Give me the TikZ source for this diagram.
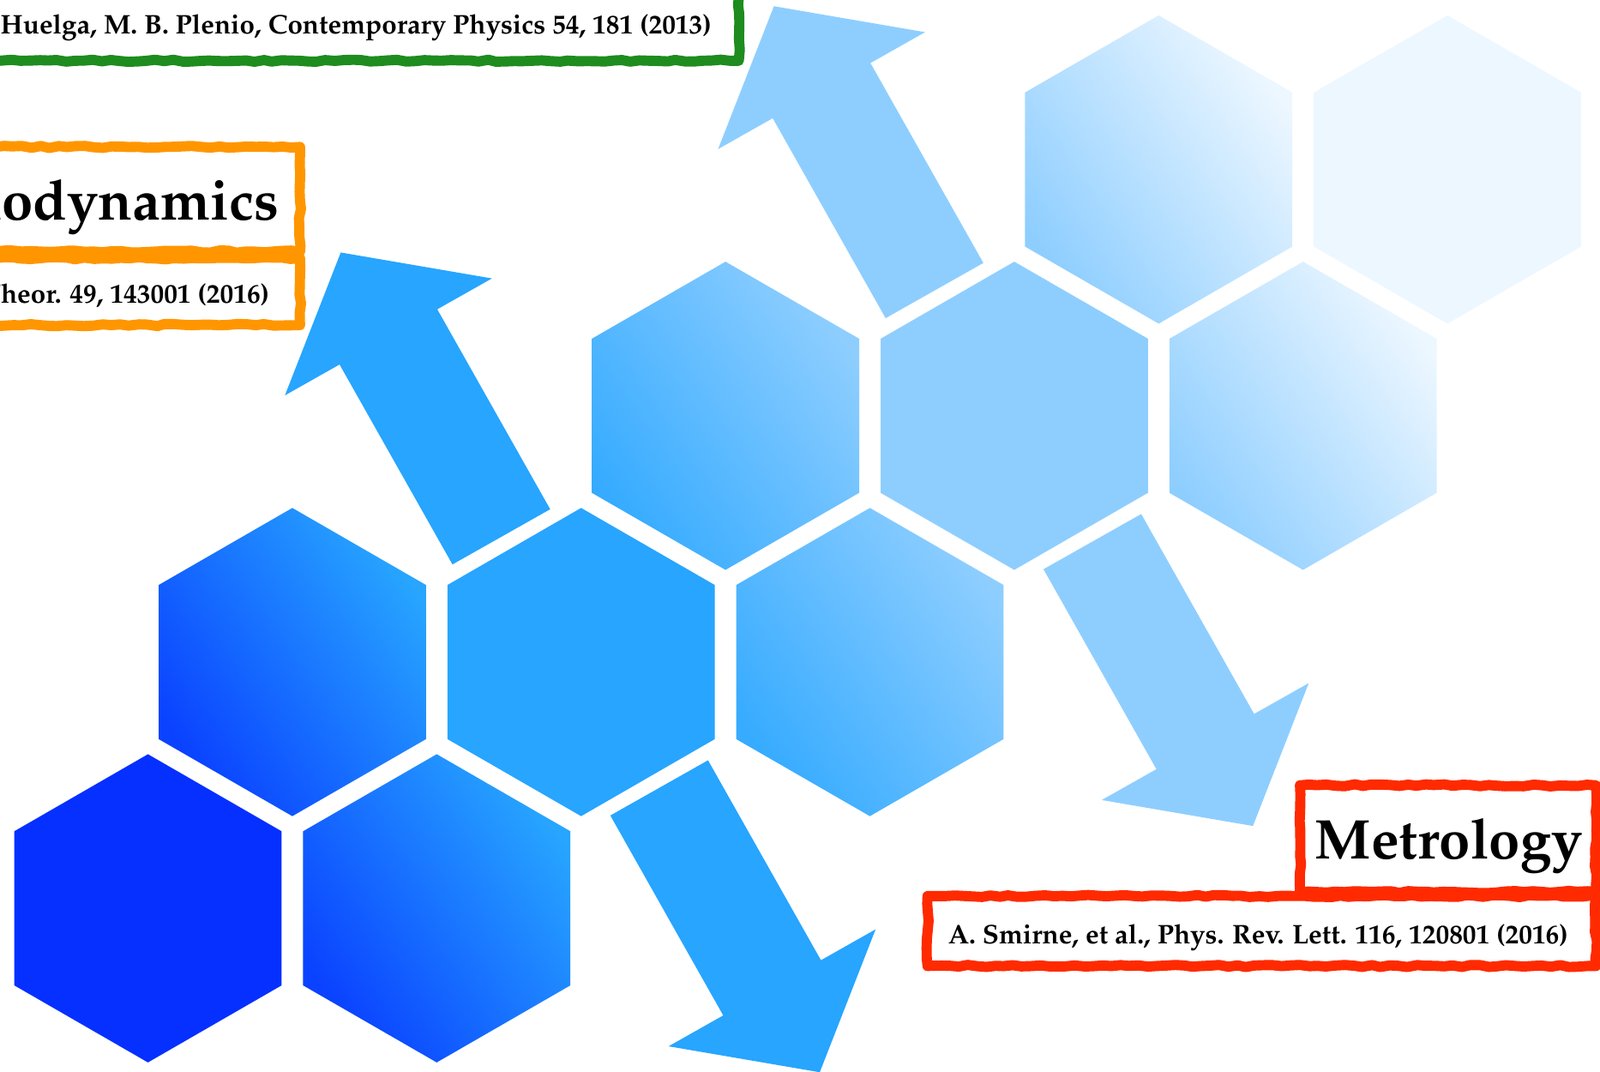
\documentclass[tikz,border=0pt]{standalone}
\usepackage[T1]{fontenc}
\usepackage{mathpazo}
\usepackage{tikz}
\usetikzlibrary{decorations.pathmorphing}
\definecolor{HexDeep}{HTML}{0530FF}
\definecolor{HexMid}{HTML}{27A5FF}
\definecolor{HexLight}{HTML}{8ECEFF}
\definecolor{HexPale}{HTML}{EDF7FF}
\definecolor{FrameGreen}{HTML}{1E8C1E}
\definecolor{FrameOrange}{HTML}{FF9600}
\definecolor{FrameRed}{HTML}{FF2A00}
\tikzset{
  hexdeep/.style={fill=HexDeep},
  hexmid/.style={fill=HexMid},
  hexlight/.style={fill=HexLight},
  hexpale/.style={fill=HexPale},
  hexdeepmid/.style={bottom color=HexDeep!85!HexMid,top color=HexMid,shading angle=-55},
  hexmidlight/.style={bottom color=HexMid!85!HexLight,top color=HexLight,shading angle=-55},
  hexlightpale/.style={bottom color=HexLight,top color=HexPale,shading angle=-55},
  refbox/.style={draw=#1,line width=1mm,fill=white,line join=round,
    decorate,decoration={random steps,segment length=2.5pt,amplitude=0.3pt}},
  titletext/.style={font=\fontsize{15.6}{18}\selectfont\bfseries,inner sep=0pt},
  reftext/.style={font=\fontsize{7.5}{9}\selectfont\bfseries,inner sep=0pt}
}

\begin{document}
\begin{tikzpicture}[x=0.01cm,y=0.01cm]
  \useasboundingbox (0,0) rectangle (1568,1050);
  \clip (0,0) rectangle (1568,1050);

  % honeycomb
  \foreach \c/\r/\sty in {0/0/hexdeep,1/0/hexdeepmid,0/1/hexdeepmid,1/1/hexmid,2/1/hexmidlight,
      1/2/hexmidlight,2/2/hexlight,3/2/hexlightpale,2/3/hexlightpale,3/3/hexpale}
    \path[\sty] ({145+283*\c+141.5*\r},{160+241.3*\r}) ++(0,151) -- ++(131,-75.5) -- ++(0,-151)
      -- ++(-131,-75.5) -- ++(-131,75.5) -- ++(0,151) -- cycle;

  % block arrows
  \foreach \ax/\ay/\ang/\col in {491.3/524/119.46/HexMid,646/278/-60.54/HexMid,
      915.8/765.3/119.46/HexLight,1070.5/519.3/-60.54/HexLight}
    \fill[\col,shift={(\ax,\ay)},rotate=\ang] (0,-55) -- (225,-55) -- (225,-116.5) -- (320,0)
      -- (225,116.5) -- (225,55) -- (0,55) -- cycle;

  % reference boxes
  \draw[refbox=FrameGreen] (-40,990.5) rectangle (724,1090);
  \draw[refbox=FrameOrange] (-40,803.5) rectangle (294,906);
  \draw[refbox=FrameOrange] (-40,731.5) rectangle (294,797);
  \draw[refbox=FrameRed] (1274,176) rectangle (1564,280.5);
  \draw[refbox=FrameRed] (909,103.5) rectangle (1564,172);

  \node[reftext,anchor=base east] (qbref) at (698,1017) {Huelga, M. B. Plenio, Contemporary Physics 54, 181 (2013)};
  \node[titletext,anchor=base east] (thermo) at (274,834.3) {modynamics};
  \node[reftext,anchor=base east] (thermoref) at (264.7,753.2) {Theor. 49, 143001 (2016)};
  \node[titletext,anchor=base] (metro) at (1420,208.2) {Metrology};
  \node[reftext,anchor=base] (metroref) at (1233,125.6) {A. Smirne, et al., Phys. Rev. Lett. 116, 120801 (2016)};
\end{tikzpicture}
\end{document}
